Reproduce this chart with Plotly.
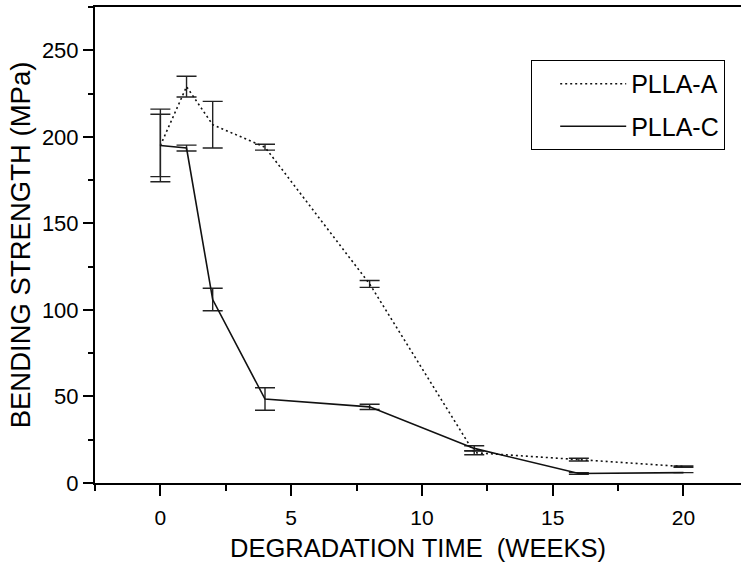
import plotly.graph_objects as go

# ---- data ----
weeks = [0, 1, 2, 4, 8, 12, 16, 20]
plla_a = [195, 229, 207, 194, 115, 17.5, 13.5, 9.5]
plla_a_err = [18, 6, 13.5, 1.7, 2, 1.2, 0.8, 0.4]
plla_c = [195, 193.5, 106, 48.5, 44, 20, 5.5, 6]
plla_c_err = [21, 1.7, 6.5, 6.5, 1.5, 1.5, 0.5, 0]

x_ticks = [0, 5, 10, 15, 20]
y_ticks = [0, 50, 100, 150, 200, 250]

FONT = "Liberation Sans, Arial, Helvetica, sans-serif"

fig = go.Figure()
fig.add_trace(go.Scatter(
    x=weeks, y=plla_a, name="PLLA-A", mode="lines", legendgroup="a",
    line=dict(color="#111", width=1.6, dash="2px,3px"),
    error_y=dict(type="data", array=plla_a_err, visible=True,
                 color="#222", thickness=1.4, width=10),
))
fig.add_trace(go.Scatter(
    x=weeks, y=plla_c, name="PLLA-C", mode="lines", legendgroup="c",
    line=dict(color="#111", width=1.6),
    error_y=dict(type="data", array=plla_c_err, visible=True,
                 color="#222", thickness=1.4, width=10),
))

axis_common = dict(
    showline=True, linecolor="black", linewidth=2, showgrid=False,
    zeroline=False, ticks="outside", tickcolor="black", tickwidth=2,
)

fig.update_layout(
    width=741, height=562,
    margin=dict(l=95, r=0, t=7, b=79),
    paper_bgcolor="white", plot_bgcolor="white",
    font=dict(family=FONT, color="black"),
    showlegend=True,
    legend=dict(
        x=0.975, xanchor="right", y=0.8887, yanchor="top",
        bordercolor="black", borderwidth=1, bgcolor="white",
        font=dict(family=FONT, size=25, color="black"),
        itemwidth=66, tracegroupgap=7,
        title=dict(text="\u00a0\u00a0", side="left",
                   font=dict(family=FONT, size=24)),
    ),
    xaxis=dict(
        **axis_common, range=[-2.5, 22.2], tickvals=x_ticks, ticklen=11,
        mirror=True, ticklabelstandoff=4,
        tickfont=dict(family=FONT, size=21, color="black"),
        minor=dict(ticks="outside", dtick=2.5, tick0=0, ticklen=6,
                   tickwidth=2, tickcolor="black"),
        title=dict(text="DEGRADATION TIME\u00a0 (WEEKS)",
                   font=dict(family=FONT, size=25.5, color="black"), standoff=12),
    ),
    yaxis=dict(
        **axis_common, range=[0, 275], tickvals=y_ticks, ticklen=10,
        tickfont=dict(family=FONT, size=22, color="black"),
        minor=dict(ticks="outside", dtick=25, tick0=0, ticklen=5,
                   tickwidth=2, tickcolor="black"),
        title=dict(text="BENDING STRENGTH (MPa)",
                   font=dict(family=FONT, size=27.5, color="black"), standoff=3),
    ),
)

fig.write_html("out.html")
